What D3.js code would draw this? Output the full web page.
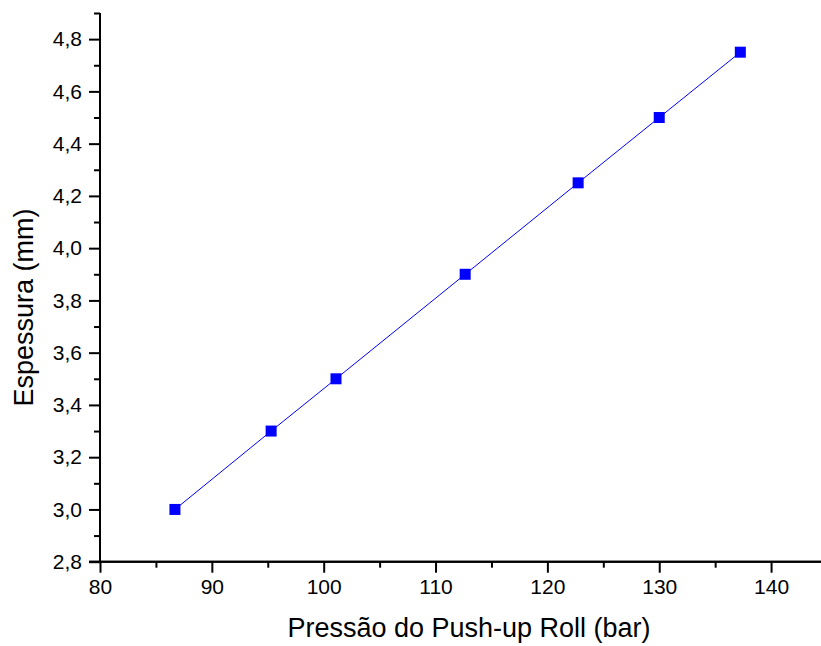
<!DOCTYPE html>
<html>
<head>
<meta charset="utf-8">
<script src="https://cdn.jsdelivr.net/npm/d3@7"></script>
<style>
  html, body { margin: 0; padding: 0; background: #fff; }
  svg { display: block; }
  text { font-family: "Liberation Sans", Arial, sans-serif; fill: #000; }
</style>
</head>
<body>
<svg id="chart" width="821" height="646"></svg>
<script>
// Push-up roll pressure (bar) vs. resulting thickness (mm)
const pressure  = [86.7, 95.3, 101.1, 112.65, 122.75, 130.0, 137.25];
const thickness = [3.0, 3.3, 3.5, 3.9, 4.25, 4.5, 4.75];

const xMajorTicks = [80, 90, 100, 110, 120, 130, 140];
const xMinorTicks = [85, 95, 105, 115, 125, 135, 145];
const yMajorTicks = [2.8, 3.0, 3.2, 3.4, 3.6, 3.8, 4.0, 4.2, 4.4, 4.6, 4.8];
const yMinorTicks = [2.9, 3.1, 3.3, 3.5, 3.7, 3.9, 4.1, 4.3, 4.5, 4.7, 4.9];

const xTitle = "Pressão do Push-up Roll (bar)";
const yTitle = "Espessura (mm)";

const svg = d3.select("#chart");
const plot = { left: 100, right: 827, top: 13, bottom: 561.7 };

const x = d3.scaleLinear().domain([80, 145]).range([plot.left, plot.right]);
const y = d3.scaleLinear().domain([2.8, 4.9]).range([plot.bottom, plot.top]);

const fmt = d => d3.format(".1f")(d).replace(".", ",");

// X axis
const gx = svg.append("g").attr("transform", `translate(0,${plot.bottom})`);
gx.call(d3.axisBottom(x).tickValues(xMajorTicks).tickSize(11).tickPadding(6).tickFormat(d3.format("d")));
gx.append("g").call(d3.axisBottom(x).tickValues(xMinorTicks).tickSize(6).tickFormat(""));

// Y axis
const gy = svg.append("g").attr("transform", `translate(${plot.left},0)`);
gy.call(d3.axisLeft(y).tickValues(yMajorTicks).tickSize(11).tickPadding(7).tickFormat(fmt));
gy.append("g").call(d3.axisLeft(y).tickValues(yMinorTicks).tickSize(6).tickFormat(""));

svg.selectAll(".domain").attr("stroke", "#000").attr("stroke-width", 2);
gx.selectAll(".domain").attr("d", `M${plot.left - 11},0H${plot.right}`);
gy.selectAll(".domain").attr("d", `M0,${plot.bottom}V${plot.top}`);
svg.selectAll(".tick line").attr("stroke", "#000").attr("stroke-width", 2);
svg.selectAll(".tick text").style("font-size", "21px").style("font-family", '"Liberation Sans", Arial, sans-serif');
gx.selectAll(".tick text").attr("dy", "0.75em");

// Axis titles
svg.append("text")
  .attr("x", 469).attr("y", 637)
  .attr("text-anchor", "middle")
  .style("font-size", "27px")
  .text(xTitle);

svg.append("text")
  .attr("transform", "translate(33,307.5) rotate(-90)")
  .attr("text-anchor", "middle")
  .style("font-size", "27px")
  .text(yTitle);

// Series line and square markers
const pts = pressure.map((p, i) => [p, thickness[i]]);
svg.append("path")
  .datum(pts)
  .attr("fill", "none")
  .attr("stroke", "#0000ff")
  .attr("stroke-width", 1)
  .attr("d", d3.line().x(d => x(d[0])).y(d => y(d[1])));

const s = 11;
svg.selectAll("rect.pt")
  .data(pts)
  .enter().append("rect")
  .attr("class", "pt")
  .attr("x", d => x(d[0]) - s / 2)
  .attr("y", d => y(d[1]) - s / 2)
  .attr("width", s).attr("height", s)
  .attr("fill", "#0000ff");
</script>
</body>
</html>
